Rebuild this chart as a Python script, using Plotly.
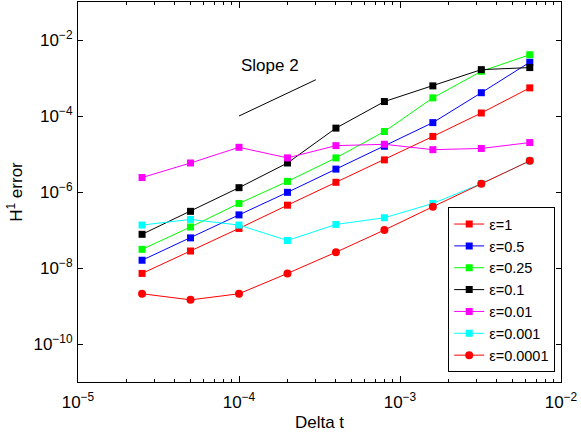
import plotly.graph_objects as go

# Time step sizes
dt = [2.5e-5, 5e-5, 1e-4, 2e-4, 4e-4, 8e-4, 1.6e-3, 3.2e-3, 6.4e-3]

# H1 errors for each epsilon
err_eps_1 = [7.2e-9, 2.8e-8, 1.1e-7, 4.5e-7, 1.8e-6, 7.0e-6, 2.9e-5, 1.2e-4, 5.5e-4]
err_eps_05 = [1.6e-8, 6.2e-8, 2.5e-7, 9.8e-7, 4.0e-6, 1.6e-5, 6.7e-5, 4.1e-4, 2.6e-3]
err_eps_025 = [3.1e-8, 1.2e-7, 5.0e-7, 1.9e-6, 7.9e-6, 3.9e-5, 3.0e-4, 1.5e-3, 4.1e-3]
err_eps_01 = [7.7e-8, 3.1e-7, 1.3e-6, 5.8e-6, 4.8e-5, 2.4e-4, 6.2e-4, 1.66e-3, 1.88e-3]
err_eps_001 = [2.4e-6, 5.8e-6, 1.5e-5, 7.9e-6, 1.66e-5, 1.8e-5, 1.3e-5, 1.4e-5, 2.0e-5]
err_eps_0001 = [1.35e-7, 1.9e-7, 1.35e-7, 5.3e-8, 1.4e-7, 2.1e-7, 5.0e-7, 1.66e-6, 6.6e-6]
err_eps_00001 = [2.1e-9, 1.45e-9, 2.1e-9, 7.2e-9, 2.6e-8, 1.0e-7, 4.1e-7, 1.66e-6, 6.6e-6]

labels = ["ε=1", "ε=0.5", "ε=0.25", "ε=0.1", "ε=0.01", "ε=0.001", "ε=0.0001"]
colors = ["#ff0000", "#0000ff", "#00ff00", "#000000", "#ff00ff", "#00ffff", "#ff0000"]
symbols = ["square", "square", "square", "square", "square", "square", "circle"]
series = [err_eps_1, err_eps_05, err_eps_025, err_eps_01, err_eps_001, err_eps_0001, err_eps_00001]

# Reference slope-2 line
slope_x = [1e-4, 3e-4]
slope_y = [1e-4, 9e-4]

FONT = "Liberation Sans, Arial, Helvetica, sans-serif"

fig = go.Figure()
for lab, col, sym, ys in zip(labels, colors, symbols, series):
    fig.add_trace(go.Scatter(
        x=dt, y=ys, name=lab, mode="lines+markers",
        line=dict(color=col, width=1),
        marker=dict(symbol=sym, size=7 if sym == "square" else 8, color=col,
                    line=dict(width=0)),
    ))

fig.add_trace(go.Scatter(
    x=slope_x, y=slope_y, mode="lines", showlegend=False,
    line=dict(color="black", width=1),
))

fig.add_annotation(x=-3.81, y=-2.67, xref="x", yref="y", text="Slope 2",
                   showarrow=False, font=dict(size=17, color="black", family=FONT))

xmaj = [1e-5, 1e-4, 1e-3, 1e-2]
xmaj_txt = ["10<sup>−5</sup>", "10<sup>−4</sup>", "10<sup>−3</sup>", "10<sup>−2</sup>"]
xminor = [k * 10.0 ** e for e in (-5, -4, -3) for k in range(2, 10)]
ymaj = [1e-10, 1e-8, 1e-6, 1e-4, 1e-2]
ymaj_txt = ["10<sup>−10</sup>", "10<sup>−8</sup>", "10<sup>−6</sup>", "10<sup>−4</sup>", "10<sup>−2</sup>"]

fig.update_layout(
    width=581, height=436,
    margin=dict(l=78, r=20, t=2, b=54),
    paper_bgcolor="white", plot_bgcolor="white",
    font=dict(family=FONT, size=17, color="black"),
    xaxis=dict(
        type="log", range=[-5, -2],
        tickvals=xmaj, ticktext=xmaj_txt,
        ticks="inside", ticklen=6, tickcolor="black",
        tickfont=dict(size=17), ticklabelstandoff=5,
        minor=dict(tickvals=xminor, ticks="inside", ticklen=3, tickcolor="black"),
        showline=True, linecolor="black", linewidth=1, mirror="allticks",
        showgrid=False, zeroline=False,
        title=dict(text="Delta t", standoff=4, font=dict(size=17)),
    ),
    yaxis=dict(
        type="log", range=[-11, -1],
        tickvals=ymaj, ticktext=ymaj_txt,
        ticks="inside", ticklen=5, tickcolor="black",
        tickfont=dict(size=17), ticklabelstandoff=1,
        showline=True, linecolor="black", linewidth=1, mirror="allticks",
        showgrid=False, zeroline=False,
        title=dict(text="H<sup>1</sup> error", standoff=6, font=dict(size=17)),
    ),
    legend=dict(
        x=0.988, y=0.026, xanchor="right", yanchor="bottom",
        bgcolor="white", bordercolor="black", borderwidth=1,
        font=dict(size=14.5, family=FONT),
        itemwidth=30, entrywidth=76, entrywidthmode="pixels",
    ),
)

fig.write_html("out.html")
